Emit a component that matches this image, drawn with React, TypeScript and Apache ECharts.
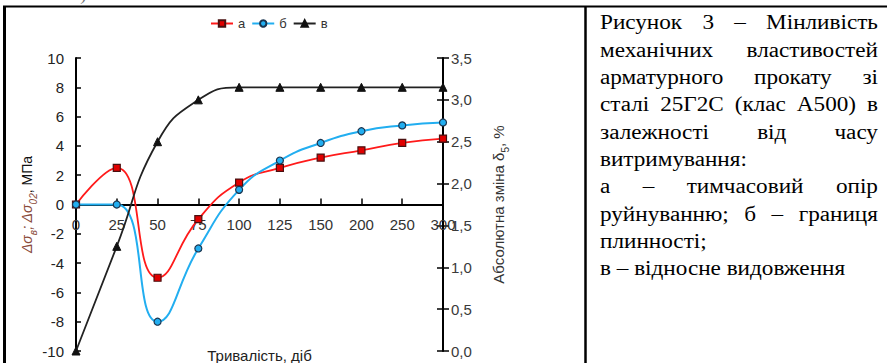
import React, { useEffect, useRef } from 'react';
import * as echarts from 'echarts';

const categories = ['0', '25', '50', '75', '100', '125', '150', '200', '250', '300'];
const seriesA = [0, 2.5, -5, -1, 1.5, 2.5, 3.2, 3.7, 4.2, 4.5];
const seriesB = [0, 0, -8, -3, 1, 3, 4.2, 5, 5.4, 5.6];
const seriesV = [0, 1.25, 2.5, 3.0, 3.15, 3.15, 3.15, 3.15, 3.15, 3.15];
const legendNames = ['а', 'б', 'в'];
const leftMin = -10;
const leftMax = 10;
const leftStep = 2;
const rightMin = 0;
const rightMax = 3.5;
const rightStep = 0.5;
const captionLines = [
  { text: 'Рисунок 3 – Мінливість', justify: true },
  { text: 'механічних властивостей', justify: true },
  { text: 'арматурного прокату зі', justify: true },
  { text: 'сталі 25Г2С (клас А500) в', justify: true },
  { text: 'залежності від часу', justify: true },
  { text: 'витримування:', justify: false },
  { text: 'а – тимчасовий опір', justify: true },
  { text: 'руйнуванню; б – границя', justify: true },
  { text: 'плинності;', justify: false },
  { text: 'в – відносне видовження', justify: false },
];

const SERIF = '"Liberation Serif", "Times New Roman", serif';
const SANS = '"Liberation Sans", Arial, sans-serif';

const GRID_TOP = 58;
const GRID_BOTTOM = 12;
const CHART_H = 363;

function buildCaption(left: number, right: number, top: number, lineH: number, fontSize: number, stretch: number) {
  const canvas = document.createElement('canvas');
  const ctx = canvas.getContext('2d') as CanvasRenderingContext2D;
  ctx.font = `${fontSize}px ${SERIF}`;
  const els: any[] = [];
  const mk = (text: string, x: number, y: number) => ({
    type: 'text', x, y, scaleX: stretch, scaleY: 1,
    style: { text, fontSize, fontFamily: SERIF, fill: '#000', verticalAlign: 'middle' },
  });
  captionLines.forEach((ln, i) => {
    const y = top + i * lineH;
    const words = ln.text.split(' ');
    if (!ln.justify || words.length < 2) {
      els.push(mk(ln.text, left, y));
      return;
    }
    const widths = words.map((w) => ctx.measureText(w).width * stretch);
    const total = widths.reduce((a, b) => a + b, 0);
    const gap = (right - left - total) / (words.length - 1);
    let x = left;
    words.forEach((w, j) => {
      els.push(mk(w, x, y));
      x += widths[j] + gap;
    });
  });
  return els;
}

export default function App() {
  const ref = useRef<HTMLDivElement>(null);
  useEffect(() => {
    document.body.style.margin = '0';
    if (!ref.current) return;
    const chart = echarts.init(ref.current, undefined, { renderer: 'svg' });

    const plotH = CHART_H - GRID_TOP - GRID_BOTTOM;
    const zeroOffset = -plotH * (0 - leftMin) / (leftMax - leftMin);

    const frame = [
      { type: 'line', shape: { x1: 3, y1: 6.5, x2: 887, y2: 6.5 }, style: { stroke: '#000', lineWidth: 2 } },
      { type: 'line', shape: { x1: 4.5, y1: 6, x2: 4.5, y2: 363 }, style: { stroke: '#000', lineWidth: 3 } },
      { type: 'line', shape: { x1: 585.5, y1: 6, x2: 585.5, y2: 363 }, style: { stroke: '#000', lineWidth: 2.5 } },
      { type: 'text', x: 38, y: 3, style: { text: 'А500).', fontSize: 19, fontFamily: SERIF, fill: '#777', verticalAlign: 'bottom' } },
    ];

    const option: any = {
      animation: false,
      textStyle: { fontFamily: SANS },
      legend: {
        data: legendNames,
        top: 12,
        left: 205,
        itemWidth: 22,
        itemHeight: 8,
        itemGap: 6,
        textStyle: { fontSize: 13, color: '#333', fontFamily: SANS },
      },
      grid: { left: 76, right: 444, top: GRID_TOP, bottom: GRID_BOTTOM, containLabel: false, outerBoundsMode: 'none' },
      xAxis: {
        type: 'category',
        data: categories,
        boundaryGap: false,
        position: 'bottom',
        offset: zeroOffset,
        axisLine: { onZero: false, lineStyle: { color: '#000', width: 2 } },
        axisTick: { inside: true, length: 6, lineStyle: { color: '#000', width: 1.5 } },
        axisLabel: { fontSize: 15, color: '#333', margin: 12, interval: 0, fontFamily: SANS, hideOverlap: false },
        splitLine: { show: false },
        name: 'Тривалість, діб',
        nameLocation: 'middle',
        nameGap: 143,
        nameTextStyle: { fontSize: 15, color: '#222', fontFamily: SANS },
      },
      yAxis: [
        {
          type: 'value', position: 'left', min: leftMin, max: leftMax, interval: leftStep,
          axisLine: { show: true, onZero: false, lineStyle: { color: '#000', width: 2 } },
          axisTick: { show: true, inside: true, length: 5, lineStyle: { color: '#000', width: 1.5 } },
          axisLabel: { fontSize: 15, color: '#222', margin: 12, fontFamily: SANS, hideOverlap: false },
          splitLine: { show: false },
          name: '{d|Δσ}{s|в}{d|; Δσ}{s|02}{m|, МПа}',
          nameLocation: 'middle',
          nameGap: 38,
          nameRotate: 90,
          nameTextStyle: {
            rich: {
              d: { fontSize: 14, fontStyle: 'italic', color: '#8a4a3a', fontFamily: SANS, verticalAlign: 'top', lineHeight: 16 },
              s: { fontSize: 10, fontStyle: 'italic', color: '#8a4a3a', fontFamily: SANS, verticalAlign: 'top', lineHeight: 10, padding: [8, 0, 0, 0] },
              m: { fontSize: 14, color: '#111', fontFamily: SANS, verticalAlign: 'top', lineHeight: 16 },
            },
          },
        },
        {
          type: 'value', position: 'right', min: rightMin, max: rightMax, interval: rightStep,
          axisLine: { show: true, onZero: false, lineStyle: { color: '#000', width: 2 } },
          axisTick: { show: true, inside: false, length: 6, lineStyle: { color: '#000', width: 1.5 } },
          axisLabel: {
            fontSize: 15, color: '#3a3a3a', margin: 8, fontFamily: SANS, hideOverlap: false,
            formatter: (v: number) => v.toFixed(1).replace('.', ','),
          },
          splitLine: { show: false },
          name: '{t|Абсолютна зміна δ}{s|5}{t|, %}',
          nameLocation: 'middle',
          nameGap: 48,
          nameRotate: 90,
          nameTextStyle: {
            rich: {
              t: { fontSize: 15, color: '#333', fontFamily: SANS, verticalAlign: 'top', lineHeight: 17 },
              s: { fontSize: 10, color: '#333', fontFamily: SANS, verticalAlign: 'top', lineHeight: 10, padding: [9, 0, 0, 0] },
            },
          },
        },
        {
          type: 'value', position: 'right', min: rightMin, max: rightMax, interval: rightStep,
          axisLine: { show: false, onZero: false },
          axisTick: { show: true, inside: true, length: 6, lineStyle: { color: '#000', width: 1.5 } },
          axisLabel: { show: false },
          splitLine: { show: false },
        },
      ],
      series: [
        {
          name: legendNames[0], type: 'line', data: seriesA, yAxisIndex: 0, smooth: 0.5,
          symbol: 'rect', symbolSize: 7,
          lineStyle: { color: '#ff1a1a', width: 1.8 },
          itemStyle: { color: '#e00000', borderColor: '#4a1010', borderWidth: 1.2 },
          z: 3,
        },
        {
          name: legendNames[1], type: 'line', data: seriesB, yAxisIndex: 0, smooth: 0.5,
          symbol: 'circle', symbolSize: 7,
          lineStyle: { color: '#22aef0', width: 2 },
          itemStyle: { color: '#22aef0', borderColor: '#1a3550', borderWidth: 1.2 },
          z: 3,
        },
        {
          name: legendNames[2], type: 'line', data: seriesV, yAxisIndex: 1, smooth: 0.5,
          symbol: 'triangle', symbolSize: 8,
          lineStyle: { color: '#222', width: 1.8 },
          itemStyle: { color: '#111', borderColor: '#111', borderWidth: 1 },
          z: 3,
        },
      ],
      graphic: [...frame, ...buildCaption(600, 878, 23, 27.3, 20, 1.16)],
    };
    chart.setOption(option);
    return () => chart.dispose();
  }, []);
  return <div ref={ref} style={{ width: 887, height: 363 }} />;
}
